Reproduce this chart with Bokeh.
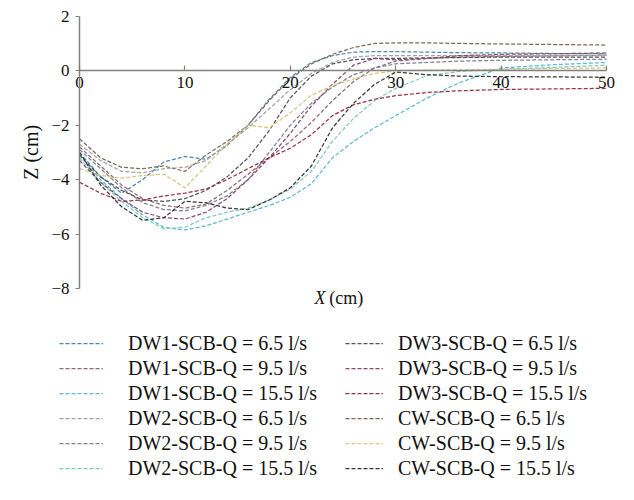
import math
from bokeh.plotting import figure
from bokeh.models import Legend, LegendItem, Label, Range1d, LinearAxis
from bokeh.embed import file_html
from bokeh.resources import INLINE

# ---- data ----
x_cm = [0, 2, 4, 6, 8, 10, 12, 14, 16, 18, 20, 22, 24, 26, 28, 30, 33, 36, 40, 45, 50]

dw1_65 = [-3.0, -3.9, -4.5, -4.0, -3.35, -3.15, -3.25, -2.75, -2.0, -1.05, -0.25, 0.3, 0.55, 0.68, 0.7, 0.7, 0.68, 0.66, 0.65, 0.63, 0.62]
dw1_95 = [-2.8, -3.5, -4.2, -4.7, -4.95, -5.05, -4.9, -4.4, -3.8, -3.2, -2.6, -1.9, -1.1, -0.4, 0.1, 0.35, 0.45, 0.5, 0.52, 0.55, 0.57]
dw1_155 = [-3.1, -4.0, -4.7, -5.3, -5.75, -5.85, -5.7, -5.45, -5.2, -4.95, -4.65, -4.15, -3.2, -2.6, -2.1, -1.65, -1.0, -0.45, 0.1, 0.22, 0.3]
dw2_65 = [-2.7, -3.3, -3.7, -3.75, -3.6, -3.55, -3.3, -2.7, -2.1, -1.4, -0.7, -0.1, 0.3, 0.5, 0.55, 0.55, 0.55, 0.55, 0.55, 0.55, 0.55]
dw2_95 = [-2.9, -3.6, -4.3, -4.85, -5.1, -5.15, -4.95, -4.6, -4.0, -3.0, -2.0, -1.2, -0.6, -0.15, 0.1, 0.25, 0.3, 0.35, 0.38, 0.4, 0.42]
dw2_155 = [-3.2, -4.1, -4.8, -5.4, -5.8, -5.75, -5.4, -5.2, -5.05, -4.75, -4.35, -3.7, -2.6, -1.75, -1.1, -0.65, -0.18, -0.03, 0.05, 0.12, 0.2]
dw3_65 = [-3.1, -3.9, -4.4, -4.75, -4.8, -4.7, -4.4, -3.9, -3.2, -2.2, -1.0, -0.2, 0.25, 0.4, 0.45, 0.45, 0.47, 0.48, 0.5, 0.5, 0.5]
dw3_95 = [-3.3, -4.1, -4.7, -5.2, -5.4, -5.45, -5.2, -4.7, -4.0, -3.2, -2.3, -1.3, -0.5, 0.2, 0.45, 0.4, 0.45, 0.55, 0.6, 0.62, 0.65]
dw3_155 = [-4.1, -4.5, -4.8, -4.75, -4.6, -4.5, -4.35, -4.0, -3.6, -3.2, -2.85, -2.35, -1.65, -1.25, -1.05, -0.92, -0.8, -0.74, -0.69, -0.67, -0.65]
cw_65 = [-2.5, -3.2, -3.55, -3.6, -3.5, -3.7, -3.1, -2.6, -2.0, -1.1, -0.3, 0.25, 0.6, 0.85, 1.0, 1.02, 1.02, 1.0, 0.98, 0.96, 0.94]
cw_95 = [-3.6, -3.85, -3.95, -3.85, -3.8, -4.3, -3.5, -2.7, -2.0, -2.1, -1.55, -0.9, -0.55, -0.3, -0.1, 0.0, 0.02, 0.03, 0.05, 0.08, 0.1]
cw_155 = [-3.0, -4.2, -5.0, -5.5, -5.4, -4.8, -4.85, -5.05, -5.1, -4.75, -4.3, -3.5, -2.1, -1.2, -0.5, -0.05, -0.15, -0.2, -0.22, -0.23, -0.24]

labels_left = ["DW1-SCB-Q = 6.5 l/s", "DW1-SCB-Q = 9.5 l/s", "DW1-SCB-Q = 15.5 l/s",
               "DW2-SCB-Q = 6.5 l/s", "DW2-SCB-Q = 9.5 l/s", "DW2-SCB-Q = 15.5 l/s"]
labels_right = ["DW3-SCB-Q = 6.5 l/s", "DW3-SCB-Q = 9.5 l/s", "DW3-SCB-Q = 15.5 l/s",
                "CW-SCB-Q = 6.5 l/s", "CW-SCB-Q = 9.5 l/s", "CW-SCB-Q = 15.5 l/s"]
series_left = [dw1_65, dw1_95, dw1_155, dw2_65, dw2_95, dw2_155]
series_right = [dw3_65, dw3_95, dw3_155, cw_65, cw_95, cw_155]
colors_left = ["#4f87aa", "#8d6b78", "#5bbad4", "#a3a3a3", "#838196", "#80cbbb"]
colors_right = ["#555555", "#864a69", "#993246", "#7f6a58", "#d8c47f", "#363636"]

y_ticks = [-8, -6, -4, -2, 0, 2]
x_ticks = [0, 10, 20, 30, 40, 50]

FONT = "Liberation Serif"
AXIS_COLOR = "#808080"
TEXT = "#111111"

# frame covers the whole canvas; axes are placed at x=0 / y=0 with bounds
W, H = 634, 500
x0_px, x50_px = 79.0, 606.0
y2_px, ym8_px = 15.7, 288.0
sx = (x50_px - x0_px) / 50.0
sy = (ym8_px - y2_px) / 10.0
xr = Range1d(-x0_px / sx, 50 + (W - x50_px) / sx)
yr = Range1d(-8 - (H - ym8_px) / sy, 2 + y2_px / sy)

p = figure(width=W, height=H, x_range=xr, y_range=yr,
           x_axis_location=None, y_axis_location=None,
           output_backend="svg", toolbar_location=None,
           min_border_left=0, min_border_right=0, min_border_top=0, min_border_bottom=0)
p.outline_line_color = None
p.grid.visible = False
p.background_fill_color = "white"
p.border_fill_color = "white"

def style_axis(ax):
    ax.axis_line_color = AXIS_COLOR
    ax.axis_line_width = 1.5
    ax.major_tick_line_color = AXIS_COLOR
    ax.major_tick_line_width = 1.2
    ax.minor_tick_line_color = None
    ax.major_label_text_font = FONT
    ax.major_label_text_font_size = "17px"
    ax.major_label_text_color = TEXT

xaxis = LinearAxis(fixed_location=0, bounds=(0, 50), ticker=x_ticks)
style_axis(xaxis)
xaxis.major_tick_in = 5
xaxis.major_tick_out = 0
xaxis.major_label_standoff = 6
p.add_layout(xaxis, "below")

yaxis = LinearAxis(fixed_location=0, bounds=(-8, 2), ticker=y_ticks)
style_axis(yaxis)
yaxis.major_label_overrides = {t: ("\u2212" + str(abs(t)) if t < 0 else str(t)) for t in y_ticks}
yaxis.major_tick_in = 0
yaxis.major_tick_out = 4
yaxis.major_label_standoff = 6
p.add_layout(yaxis, "left")

items_left, items_right = [], []
for lab, ys, c in zip(labels_left, series_left, colors_left):
    r = p.line(x_cm, ys, line_color=c, line_width=1.25, line_dash="4 2")
    items_left.append(LegendItem(label=lab, renderers=[r]))
for lab, ys, c in zip(labels_right, series_right, colors_right):
    r = p.line(x_cm, ys, line_color=c, line_width=1.25, line_dash="4 2")
    items_right.append(LegendItem(label=lab, renderers=[r]))

def make_legend(items, loc, glyph_w, standoff):
    return Legend(items=items, location=loc, orientation="vertical",
                  glyph_width=glyph_w, glyph_height=24, label_height=24, spacing=1,
                  label_standoff=standoff, padding=0, margin=0,
                  border_line_color=None, background_fill_alpha=0,
                  label_text_font=FONT, label_text_font_size="20px",
                  label_text_color=TEXT)

leg_bottom = H - 480
p.add_layout(make_legend(items_left, (59, leg_bottom), 44, 25))
p.add_layout(make_legend(items_right, (345, leg_bottom), 38, 15))

# axis titles
p.add_layout(Label(x=(30 - x0_px) / sx, y=-3.0, text="Z (cm)", text_font=FONT,
                   text_font_size="20px", text_baseline="middle", text_align="center",
                   angle=math.pi / 2, text_color=TEXT))
p.add_layout(Label(x=22.3, y=-8.36, text="X", text_font=FONT, text_font_style="italic",
                   text_font_size="18px", text_baseline="middle", text_align="left",
                   text_color=TEXT))
p.add_layout(Label(x=23.7, y=-8.36, text=" (cm)", text_font=FONT,
                   text_font_size="18px", text_baseline="middle", text_align="left",
                   text_color=TEXT))

open("out.html", "w").write(file_html(p, INLINE))
